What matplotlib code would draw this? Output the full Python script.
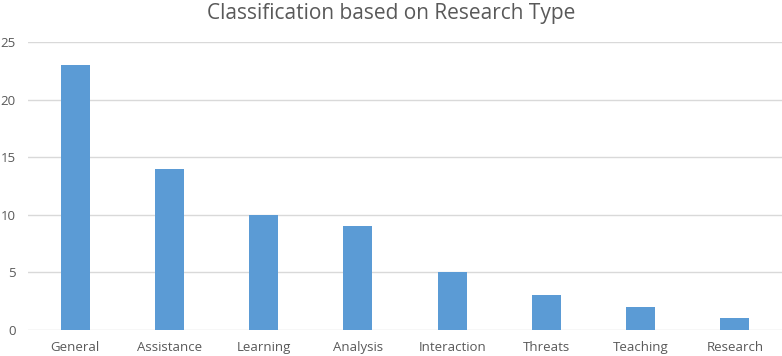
import matplotlib
matplotlib.use("Agg")
import matplotlib.pyplot as plt

categories = ["General", "Assistance", "Learning", "Analysis", "Interaction", "Threats", "Teaching", "Research"]
counts = [23, 14, 10, 9, 5, 3, 2, 1]

plt.rcParams['font.family'] = ['Open Sans', 'DejaVu Sans']

fig = plt.figure(figsize=(7.82, 3.56), dpi=100)
ax = fig.add_axes([28 / 782, 1 - 330 / 356, 1 - 28 / 782, (330 - 42) / 356])

ax.bar(range(len(categories)), counts, width=0.31, color="#5B9BD5", zorder=3)
ax.set_xlim(-0.5, len(categories) - 0.5)
ax.set_ylim(0, 25)
ax.set_yticks([0, 5, 10, 15, 20, 25])
ax.set_xticks(range(len(categories)))
ax.set_xticklabels(categories)
ax.grid(axis="y", color="#D9D9D9", linewidth=1, zorder=0)
for s in ax.spines.values():
    s.set_visible(False)
ax.tick_params(length=0, labelsize=9.5, colors="#595959", pad=8)
ax.tick_params(axis="y", pad=9)

fig.text(0.5, 1 - 14 / 356, "Classification based on Research Type", ha="center", va="center",
         fontsize=15, color="#595959")

fig.savefig("out.png", dpi=100)
